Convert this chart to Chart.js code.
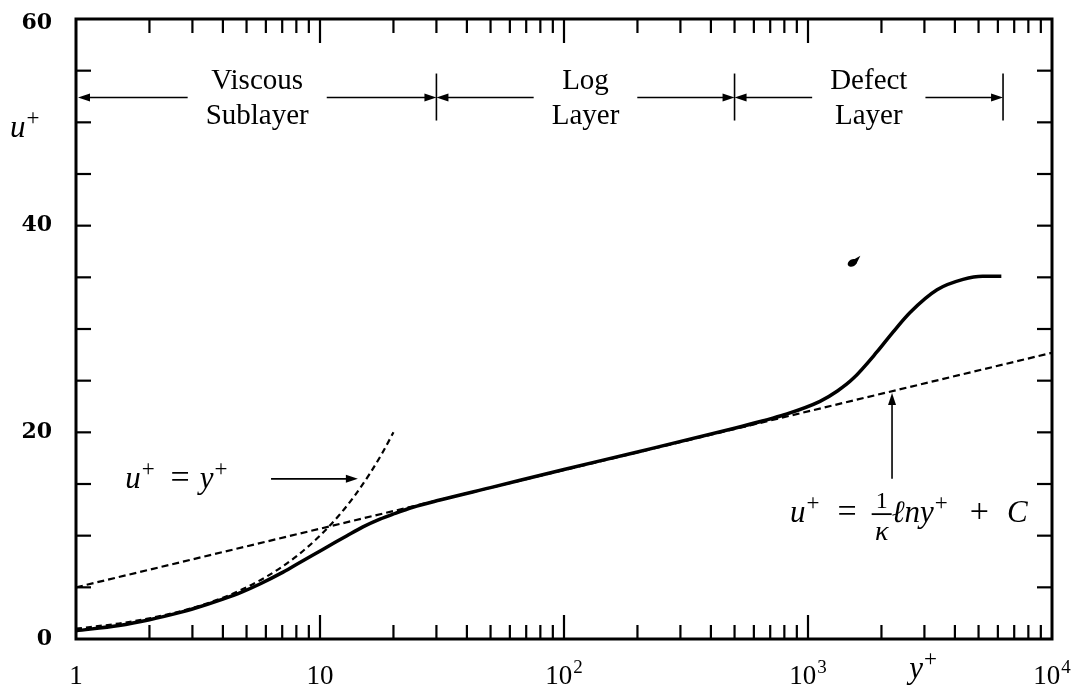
<!DOCTYPE html>
<html>
<head>
<meta charset="utf-8">
<script src="https://cdn.jsdelivr.net/npm/chart.js@4.4.0/dist/chart.umd.min.js"></script>
<style>
  html, body { margin: 0; padding: 0; background: #fff; }
  #wrap { width: 1080px; height: 686px; }
</style>
</head>
<body>
<div id="wrap"><canvas id="profile"></canvas></div>
<script>
// mean velocity profile, u+ against y+
const yPlus = [1, 1.5, 2, 2.7, 3, 4, 4.8, 5.7, 6.9, 8, 9.4, 11, 12.9, 15, 17.6, 20, 24, 31, 50, 100, 200, 500, 650, 800, 1120, 1320, 1530, 1920, 2230, 2620, 3380, 4320, 5200, 6200];
const uPlus = [0.8, 1.3, 1.86, 2.6, 2.9, 3.86, 4.56, 5.35, 6.35, 7.21, 8.15, 9.07, 10.0, 10.85, 11.6, 12.1, 12.75, 13.45, 14.65, 16.4, 18.1, 20.4, 21.1, 21.7, 23.0, 24.0, 25.2, 27.8, 29.7, 31.6, 33.8, 34.8, 35.1, 35.1];

// sublayer line u+ = y+
const linearY = [1, 1.5, 2, 3, 4, 5, 6, 7, 8, 10, 12, 14, 16, 18, 20];
const linearU = [1, 1.5, 2, 3, 4, 5, 6, 7, 8, 10, 12, 14, 16, 18, 20];

// log law line
const logLawY = [1, 10000];
const logLawU = [5.0, 27.7];

// axis ticks
const yLabelled = [0, 20, 40, 60];
const yMinor = [5, 10, 15, 20, 25, 30, 35, 40, 45, 50, 55];
const xLabelled = [1, 10, 100, 1000, 10000];
const xLabelText = [['1', ''], ['10', ''], ['10', '2'], ['10', '3'], ['10', '4']];
const xMajor = [10, 100, 1000];

// flow regions along the top
const layerBounds = [1, 30, 500, 6300];
const layerNames = [['Viscous', 'Sublayer'], ['Log', 'Layer'], ['Defect', 'Layer']];

const SERIF = '"Liberation Serif", "DejaVu Serif", serif';
const ITAL = 'italic 31px ' + SERIF;
const SUP = '23px ' + SERIF;
const EQ = '34px ' + SERIF;

function toPoints(xs, ys) {
    return xs.map((x, i) => ({ x: x, y: ys[i] }));
}

// draw a run of text pieces: [text, font, dy, gap before]
function drawRun(ctx, x, y, parts) {
    let cx = x;
    ctx.textAlign = 'left';
    ctx.textBaseline = 'alphabetic';
    parts.forEach(p => {
        cx += p[3] || 0;
        ctx.font = p[1];
        ctx.fillText(p[0], cx, y + (p[2] || 0));
        cx += ctx.measureText(p[0]).width;
    });
    return cx;
}

function runWidth(ctx, parts) {
    let w = 0;
    parts.forEach(p => {
        ctx.font = p[1];
        w += (p[3] || 0) + ctx.measureText(p[0]).width;
    });
    return w;
}

function arrowHead(ctx, tx, ty, dx, dy) {
    // dx, dy: unit direction the head points to
    const len = 12, half = 4;
    const bx = tx - dx * len, by = ty - dy * len;
    ctx.beginPath();
    ctx.moveTo(tx, ty);
    ctx.lineTo(bx - dy * half, by + dx * half);
    ctx.lineTo(bx + dy * half, by - dx * half);
    ctx.closePath();
    ctx.fill();
}

function line(ctx, x1, y1, x2, y2) {
    ctx.beginPath();
    ctx.moveTo(x1, y1);
    ctx.lineTo(x2, y2);
    ctx.stroke();
}

const axesPlugin = {
    id: 'axesPlugin',
    afterDatasetsDraw(chart) {
        const ctx = chart.ctx;
        const a = chart.chartArea;
        const xs = chart.scales.x, ys = chart.scales.y;
        ctx.save();
        ctx.strokeStyle = '#000';
        ctx.fillStyle = '#000';

        // frame
        ctx.lineWidth = 3;
        ctx.strokeRect(a.left, a.top, a.right - a.left, a.bottom - a.top);

        // inward ticks
        ctx.lineWidth = 2.2;
        yMinor.forEach(v => {
            const py = ys.getPixelForValue(v);
            line(ctx, a.left, py, a.left + 15, py);
            line(ctx, a.right, py, a.right - 15, py);
        });
        for (let d = 1; d < 10000; d *= 10) {
            for (let k = 2; k <= 9; k++) {
                const px = xs.getPixelForValue(k * d);
                line(ctx, px, a.bottom, px, a.bottom - 14);
                line(ctx, px, a.top, px, a.top + 14);
            }
        }
        xMajor.forEach(v => {
            const px = xs.getPixelForValue(v);
            line(ctx, px, a.bottom, px, a.bottom - 24);
            line(ctx, px, a.top, px, a.top + 24);
        });

        // y tick labels
        ctx.font = 'bold 22px "DejaVu Serif", serif';
        ctx.textAlign = 'right';
        ctx.textBaseline = 'middle';
        yLabelled.forEach(v => {
            const py = ys.getPixelForValue(v);
            ctx.fillText(String(v), 52, Math.max(py, a.top + 4));
        });

        // x tick labels
        xLabelled.forEach((v, i) => {
            const px = xs.getPixelForValue(v);
            const parts = [[xLabelText[i][0], '27px ' + SERIF]];
            if (xLabelText[i][1]) parts.push([xLabelText[i][1], '19px ' + SERIF, -11, 1]);
            const w = runWidth(ctx, parts);
            drawRun(ctx, px - w / 2, 684, parts);
        });

        // axis titles
        const yPart = [['y', ITAL], ['+', SUP, -12, 1]];
        const ypx = xs.getPixelForValue(2960);
        drawRun(ctx, ypx - runWidth(ctx, yPart) / 2, 678, yPart);
        drawRun(ctx, 10, 137, [['u', ITAL], ['+', SUP, -12, 1]]);

        // region arrows and names
        const arrowY = ys.getPixelForValue(52.4);
        ctx.lineWidth = 1.6;
        layerBounds.slice(1).forEach(b => {
            const px = xs.getPixelForValue(b);
            line(ctx, px, arrowY - 24, px, arrowY + 23);
        });
        for (let i = 0; i < layerNames.length; i++) {
            const x0 = xs.getPixelForValue(layerBounds[i]) + (i === 0 ? 2 : 0);
            const x1 = xs.getPixelForValue(layerBounds[i + 1]);
            const cx = (x0 + x1) / 2;
            ctx.font = '29px ' + SERIF;
            const tw = Math.max(ctx.measureText(layerNames[i][0]).width, ctx.measureText(layerNames[i][1]).width);
            const gap = tw / 2 + 18;
            line(ctx, x0 + 6, arrowY, cx - gap, arrowY);
            line(ctx, cx + gap, arrowY, x1 - 6, arrowY);
            arrowHead(ctx, x0, arrowY, -1, 0);
            arrowHead(ctx, x1, arrowY, 1, 0);
            ctx.textAlign = 'center';
            ctx.textBaseline = 'alphabetic';
            ctx.fillText(layerNames[i][0], cx, arrowY - 9);
            ctx.fillText(layerNames[i][1], cx, arrowY + 26);
        }

        // u+ = y+ label with pointer
        const la = ys.getPixelForValue(15.5);
        line(ctx, xs.getPixelForValue(6.3), la, xs.getPixelForValue(14.3) - 8, la);
        arrowHead(ctx, xs.getPixelForValue(14.3), la, 1, 0);
        drawRun(ctx, xs.getPixelForValue(1.59), ys.getPixelForValue(14.6), [
            ['u', ITAL], ['+', SUP, -12, 1], ['=', EQ, 0, 16], ['y', ITAL, 0, 10], ['+', SUP, -12, 1]
        ]);

        // log law label with pointer
        const ax = xs.getPixelForValue(2210);
        line(ctx, ax, ys.getPixelForValue(15.5), ax, ys.getPixelForValue(23.8) + 8);
        arrowHead(ctx, ax, ys.getPixelForValue(23.8), 0, -1);
        const base = ys.getPixelForValue(11.3);
        let cx = drawRun(ctx, xs.getPixelForValue(844), base, [
            ['u', ITAL], ['+', SUP, -12, 1], ['=', EQ, 0, 18]
        ]);
        cx += 15;
        ctx.fillRect(cx, base - 9, 20, 1.8);
        ctx.textAlign = 'center';
        ctx.font = '24px ' + SERIF;
        ctx.fillText('1', cx + 10, base - 14);
        ctx.font = 'italic 28px ' + SERIF;
        ctx.fillText('κ', cx + 10, base + 18);
        drawRun(ctx, cx + 20, base, [
            ['ℓny', ITAL], ['+', SUP, -12, 1], ['+', EQ, 0, 22], ['C', ITAL, 0, 18]
        ]);

        // small stray mark above the outer curve
        const sx = xs.getPixelForValue(1520), sy = ys.getPixelForValue(36.4);
        ctx.beginPath();
        ctx.ellipse(sx, sy, 5, 3.5, -0.5, 0, Math.PI * 2);
        ctx.fill();
        ctx.beginPath();
        ctx.moveTo(sx + 1, sy - 3);
        ctx.lineTo(sx + 8, sy - 7);
        ctx.lineTo(sx + 4, sy + 1);
        ctx.closePath();
        ctx.fill();

        ctx.restore();
    }
};

new Chart(document.getElementById('profile'), {
    type: 'line',
    data: {
        datasets: [
            {
                data: toPoints(linearY, linearU),
                borderColor: '#000',
                borderWidth: 2.2,
                borderDash: [6, 4],
                pointRadius: 0,
                cubicInterpolationMode: 'monotone'
            },
            {
                data: toPoints(logLawY, logLawU),
                borderColor: '#000',
                borderWidth: 2.2,
                borderDash: [7, 4],
                pointRadius: 0
            },
            {
                data: toPoints(yPlus, uPlus),
                borderColor: '#000',
                borderWidth: 3.5,
                pointRadius: 0,
                cubicInterpolationMode: 'monotone'
            }
        ]
    },
    options: {
        responsive: true,
        maintainAspectRatio: false,
        animation: false,
        events: [],
        layout: { padding: { left: 76, right: 28, top: 19, bottom: 47 } },
        plugins: { legend: { display: false }, tooltip: { enabled: false } },
        scales: {
            x: { type: 'logarithmic', min: 1, max: 10000, display: false },
            y: { type: 'linear', min: 0, max: 60, display: false }
        }
    },
    plugins: [axesPlugin]
});
</script>
</body>
</html>
